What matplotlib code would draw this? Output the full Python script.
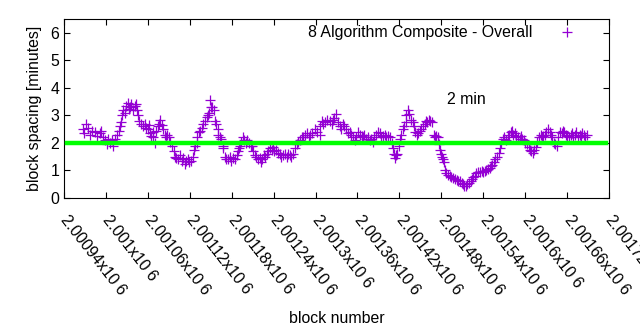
import matplotlib
matplotlib.use("Agg")
import matplotlib.pyplot as plt
from matplotlib.ticker import FuncFormatter, MultipleLocator

plt.rcParams['font.family'] = ['Liberation Sans', 'DejaVu Sans']

# block numbers and average spacing (minutes)
blocks = [2000967, 2000971, 2000977, 2000984, 2000991, 2000996, 2001001, 2001006, 2001010,
          2001016, 2001020, 2001023, 2001027, 2001032, 2001034, 2001039, 2001043, 2001046,
          2001050, 2001056, 2001060, 2001063, 2001067, 2001070, 2001075, 2001077, 2001082,
          2001086, 2001090, 2001095, 2001099, 2001103, 2001109, 2001113, 2001117, 2001122,
          2001126, 2001130, 2001133, 2001137, 2001142, 2001146, 2001149, 2001152, 2001156,
          2001160, 2001163, 2001167, 2001170, 2001175, 2001179, 2001185, 2001189, 2001192,
          2001196, 2001200, 2001205, 2001209, 2001213, 2001218, 2001222, 2001226, 2001230,
          2001235, 2001239, 2001243, 2001249, 2001253, 2001259, 2001263, 2001268, 2001273,
          2001278, 2001282, 2001288, 2001292, 2001299, 2001306, 2001309, 2001313, 2001321,
          2001325, 2001329, 2001335, 2001339, 2001344, 2001349, 2001354, 2001358, 2001364,
          2001368, 2001372, 2001378, 2001382, 2001386, 2001392, 2001397, 2001401, 2001407,
          2001411, 2001414, 2001417, 2001421, 2001425, 2001429, 2001432, 2001437, 2001441,
          2001445, 2001449, 2001454, 2001458, 2001462, 2001467, 2001471, 2001475, 2001478,
          2001481, 2001484, 2001487, 2001492, 2001497, 2001502, 2001507, 2001511, 2001515,
          2001520, 2001524, 2001528, 2001532, 2001538, 2001542, 2001547, 2001551, 2001555,
          2001560, 2001564, 2001568, 2001572, 2001577, 2001581, 2001585, 2001590, 2001594,
          2001598, 2001603, 2001607, 2001611, 2001615, 2001620, 2001624, 2001628, 2001633,
          2001637, 2001641, 2001645, 2001650, 2001654, 2001658, 2001663, 2001667, 2001671,
          2001676, 2001680, 2001684, 2001688]
spacing = [2.5, 2.7, 2.3, 2.4, 2.35, 2.2, 1.95, 2.0, 1.9,
           2.3, 2.6, 3.0, 3.1, 3.45, 3.3, 3.2, 3.4, 3.0,
           2.7, 2.7, 2.5, 2.35, 2.2, 2.0, 2.6, 2.85, 2.5,
           2.2, 2.2, 1.9, 1.5, 1.4, 1.35, 1.25, 1.4, 1.35,
           1.75, 2.0, 2.4, 2.55, 2.8, 3.0, 3.55, 3.3, 2.8,
           2.5, 2.2, 1.9, 1.5, 1.4, 1.35, 1.4, 1.7, 1.9,
           2.2, 2.0, 2.0, 1.9, 1.55, 1.4, 1.3, 1.55, 1.6,
           1.8, 1.85, 1.75, 1.6, 1.55, 1.5, 1.55, 1.6, 1.95,
           2.1, 2.2, 2.35, 2.3, 2.5, 2.3, 2.8, 2.75, 2.8,
           2.85, 3.05, 2.6, 2.7, 2.5, 2.4, 2.2, 2.2, 2.3,
           2.2, 2.15, 2.1, 2.05, 2.3, 2.35, 2.25, 2.2, 2.2,
           1.8, 1.45, 1.6, 2.15, 2.5, 2.75, 3.2, 2.85, 2.6,
           2.3, 2.45, 2.6, 2.8, 2.85, 2.75, 2.2, 2.2, 1.75,
           1.5, 1.3, 0.9, 0.8, 0.72, 0.65, 0.6, 0.5, 0.42,
           0.55, 0.7, 0.8, 0.95, 0.98, 0.97, 1.05, 1.15, 1.3,
           1.5, 1.8, 2.15, 2.1, 2.3, 2.45, 2.35, 2.2, 2.25,
           2.1, 1.95, 1.75, 1.65, 1.85, 2.2, 2.2, 2.3, 2.5,
           2.3, 2.0, 1.9, 2.4, 2.45, 2.3, 2.2, 2.35, 2.3,
           2.2, 2.25, 2.3, 2.3]

# in-between blocks (the band of crosses is dense, these fill the spread)
blocks2 = [2000969, 2000974, 2000980, 2000987, 2000993, 2000998, 2001003, 2001008, 2001013,
           2001018, 2001021, 2001025, 2001029, 2001033, 2001036, 2001041, 2001044, 2001048,
           2001053, 2001058, 2001061, 2001065, 2001068, 2001072, 2001076, 2001080, 2001084,
           2001088, 2001092, 2001097, 2001101, 2001106, 2001111, 2001115, 2001119, 2001124,
           2001128, 2001131, 2001135, 2001139, 2001144, 2001147, 2001150, 2001154, 2001158,
           2001161, 2001165, 2001168, 2001172, 2001177, 2001182, 2001187, 2001190, 2001194,
           2001198, 2001202, 2001207, 2001211, 2001215, 2001220, 2001224, 2001228, 2001232,
           2001237, 2001241, 2001246, 2001251, 2001256, 2001261, 2001265, 2001270, 2001275,
           2001280, 2001285, 2001290, 2001295, 2001302, 2001307, 2001311, 2001317, 2001323,
           2001327, 2001332, 2001337, 2001341, 2001346, 2001351, 2001356, 2001361, 2001366,
           2001370, 2001375, 2001380, 2001384, 2001389, 2001394, 2001399, 2001404, 2001409,
           2001412, 2001415, 2001419, 2001423, 2001427, 2001430, 2001434, 2001439, 2001443,
           2001447, 2001451, 2001456, 2001460, 2001464, 2001469, 2001473, 2001476, 2001479,
           2001482, 2001485, 2001490, 2001494, 2001499, 2001504, 2001509, 2001513, 2001517,
           2001522, 2001526, 2001530, 2001535, 2001540, 2001544, 2001549, 2001553, 2001557,
           2001562, 2001566, 2001570, 2001575, 2001579, 2001583, 2001587, 2001592, 2001596,
           2001600, 2001605, 2001609, 2001613, 2001617, 2001622, 2001626, 2001630, 2001635,
           2001639, 2001643, 2001647, 2001652, 2001656, 2001660, 2001665, 2001669, 2001673,
           2001678, 2001682, 2001686]
spacing2 = [2.35, 2.55, 2.45, 2.25, 2.45, 2.1, 2.15, 2.1, 2.15,
            2.45, 2.75, 3.2, 3.35, 3.25, 3.4, 3.35, 3.2, 2.8,
            2.6, 2.55, 2.65, 2.25, 2.4, 2.45, 2.7, 2.65, 2.3,
            2.3, 2.05, 1.7, 1.45, 1.55, 1.45, 1.35, 1.3, 1.5,
            1.9, 2.2, 2.45, 2.7, 2.95, 3.1, 3.3, 3.2, 2.7,
            2.3, 2.15, 1.8, 1.4, 1.5, 1.45, 1.55, 1.8, 2.05,
            2.1, 2.1, 1.9, 1.7, 1.5, 1.45, 1.4, 1.5, 1.7,
            1.75, 1.7, 1.65, 1.5, 1.6, 1.6, 1.5, 1.8, 2.05,
            2.2, 2.3, 2.2, 2.35, 2.4, 2.6, 2.7, 2.85, 2.7,
            2.9, 2.75, 2.5, 2.6, 2.35, 2.3, 2.1, 2.4, 2.25,
            2.3, 2.2, 2.15, 2.2, 2.4, 2.2, 2.3, 2.25, 2.0,
            1.6, 1.55, 1.9, 2.3, 2.6, 3.0, 3.05, 2.75, 2.4,
            2.35, 2.5, 2.7, 2.75, 2.8, 2.3, 2.25, 1.95, 1.6,
            1.4, 1.0, 0.85, 0.75, 0.7, 0.62, 0.55, 0.45, 0.5,
            0.62, 0.75, 0.9, 0.95, 0.95, 1.0, 1.1, 1.2, 1.4,
            1.65, 2.0, 2.2, 2.2, 2.4, 2.3, 2.25, 2.15, 2.15,
            2.0, 1.85, 1.7, 1.75, 2.05, 2.3, 2.25, 2.4, 2.4,
            2.2, 1.95, 2.2, 2.35, 2.4, 2.25, 2.3, 2.2, 2.4,
            2.3, 2.35, 2.2]

target = 2.0
xticks = [2000940, 2001000, 2001060, 2001120, 2001180, 2001240, 2001300,
          2001360, 2001420, 2001480, 2001540, 2001600, 2001660, 2001720]

fs = 11.4
fig = plt.figure(figsize=(6.4, 3.3), dpi=100)
ax = fig.add_axes([0.1, 0.4, 0.8516, 0.5424])

ax.plot(blocks + blocks2, spacing + spacing2, "+", color="#9400d3", markersize=7.5,
        markeredgewidth=0.9, label="8 Algorithm Composite - Overall", zorder=2)
ax.axhline(target, xmin=0.005, xmax=0.995, color="#00ff00", linewidth=3.2, zorder=3)
ax.text(2001488, 3.57, "2 min", fontsize=fs, ha="left", va="center")

ax.set_xlim(2000940, 2001720)
ax.set_ylim(0, 6.5)
ax.set_xticks(xticks)
ax.yaxis.set_major_locator(MultipleLocator(1))
ax.xaxis.set_major_formatter(FuncFormatter(lambda v, p: "%gx10 6" % (v / 1e6)))
ax.tick_params(direction="in", length=4, width=0.8, top=True, right=True, labelsize=fs)
ax.tick_params(axis="x", pad=14)
for lab in ax.get_xticklabels():
    lab.set_rotation(-52)
    lab.set_ha("left")
    lab.set_va("center")
    lab.set_rotation_mode("anchor")

ax.set_xlabel("block number", fontsize=fs, labelpad=9)
ax.set_ylabel("block spacing [minutes]", fontsize=fs, labelpad=6)

ax.legend(loc="upper right", bbox_to_anchor=(0.956, 1.0), frameon=False, markerfirst=False,
          fontsize=fs, handletextpad=1.4, borderaxespad=0.0, handlelength=1.5)

fig.savefig("out.png", dpi=100)
